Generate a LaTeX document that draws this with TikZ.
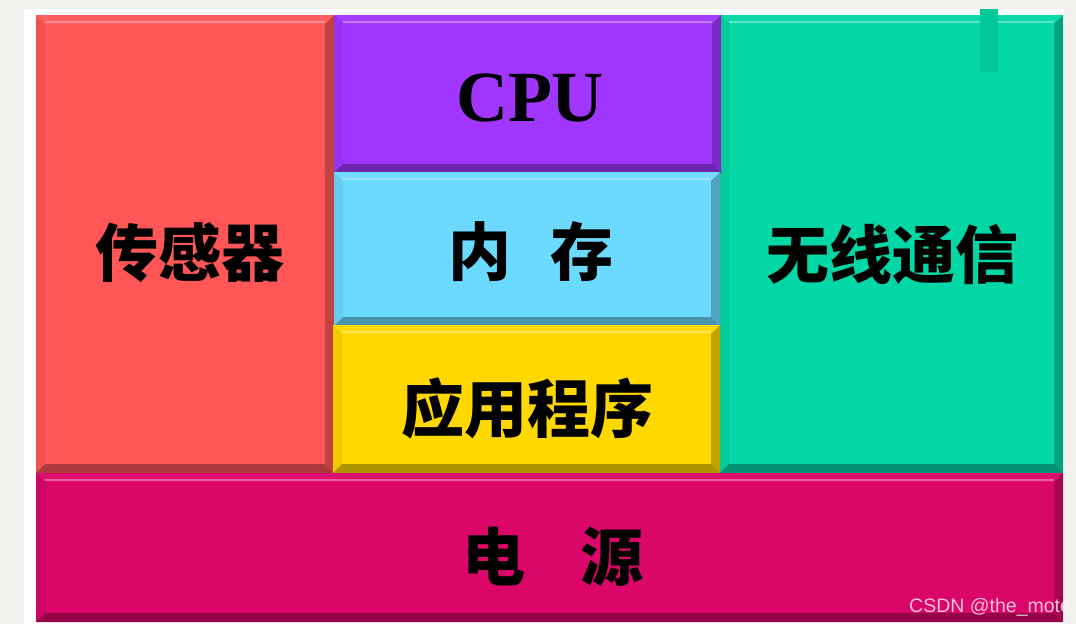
\documentclass[tikz,border=0pt]{standalone}
\usepackage{fontspec}
\setmainfont{Liberation Serif}
\setsansfont{Liberation Sans}
\newfontfamily\cjk{Noto Sans CJK SC}
\definecolor{pagegray}{HTML}{F2F1ED}
\definecolor{sensorred}{HTML}{FF5757}
\definecolor{cpupurple}{HTML}{A136FF}
\definecolor{memblue}{HTML}{6CD9FF}
\definecolor{appyellow}{HTML}{FFD800}
\definecolor{wlgreen}{HTML}{03D7A5}
\definecolor{powerpink}{HTML}{DB0669}
\definecolor{bargreen}{HTML}{00C896}
\def\bw{9pt} % bevel width
\tikzset{
  blk/.style={fill=#1, inner sep=0pt, outer sep=0pt, anchor=north west,
    path picture={
      % top
      \fill[#1!96!white] (path picture bounding box.north west) -- (path picture bounding box.north east)
        -- ([xshift=-\bw,yshift=-\bw]path picture bounding box.north east) -- ([xshift=\bw,yshift=-\bw]path picture bounding box.north west) -- cycle;
      \draw[#1!65!white, line width=2.5pt] ([xshift=\bw,yshift=-\bw+2pt]path picture bounding box.north west) -- ([xshift=-\bw,yshift=-\bw+2pt]path picture bounding box.north east);
      % left
      \fill[#1!94!black] (path picture bounding box.north west) -- ([xshift=\bw,yshift=-\bw]path picture bounding box.north west)
        -- ([xshift=\bw,yshift=\bw]path picture bounding box.south west) -- (path picture bounding box.south west) -- cycle;
      % right
      \fill[#1!76!black] (path picture bounding box.north east) -- (path picture bounding box.south east)
        -- ([xshift=-\bw,yshift=\bw]path picture bounding box.south east) -- ([xshift=-\bw,yshift=-\bw]path picture bounding box.north east) -- cycle;
      % bottom
      \fill[#1!68!black] (path picture bounding box.south west) -- (path picture bounding box.south east)
        -- ([xshift=-\bw,yshift=\bw]path picture bounding box.south east) -- ([xshift=\bw,yshift=\bw]path picture bounding box.south west) -- cycle;
    }},
  cjklbl/.style={font=\cjk\bfseries\fontsize{63}{63}\selectfont, inner sep=0pt},
}
\begin{document}
\begin{tikzpicture}[x=1pt, y=-1pt]
	\useasboundingbox (0,0) rectangle (1076,624);
	\fill[pagegray] (0,0) rectangle (1076,624);
	\fill[white] (24,9) rectangle (1064,624);
	% blocks
	\node[blk=sensorred, minimum width=298pt, minimum height=458pt] (sensor) at (36,15) {};
	\node[blk=wlgreen, minimum width=343pt, minimum height=458pt] (wireless) at (720,15) {};
	\node[blk=cpupurple, minimum width=387pt, minimum height=158pt] (cpu) at (334,15) {};
	\node[blk=memblue, minimum width=386pt, minimum height=154pt] (mem) at (334,172) {};
	\node[blk=appyellow, minimum width=387pt, minimum height=148pt] (app) at (333,325) {};
	\node[blk=powerpink, minimum width=1027pt, minimum height=149pt] (power) at (36,473) {};
	\fill[bargreen] (980,9) rectangle (998,72);
	% labels
	\node[cjklbl] (sensortxt) at (190,252) {传感器};
	\node[font=\bfseries\fontsize{72}{72}\selectfont, inner sep=0pt] (cputxt) at (530,98) {CPU};
	\node[cjklbl] (memtxt) at (531,252) {内\hspace{40pt}存};
	\node[cjklbl] (apptxt) at (527,408) {应用程序};
	\node[cjklbl] (wltxt) at (892,254) {无线通信};
	\node[cjklbl] (powertxt) at (553,557) {电\hspace{55pt}源};
	\node[font=\sffamily\fontsize{19.5}{19.5}\selectfont, text=white, text opacity=0.75, anchor=base west, inner sep=0pt] (mark) at (909,612) {CSDN @the\_mote};
\end{tikzpicture}
\end{document}
